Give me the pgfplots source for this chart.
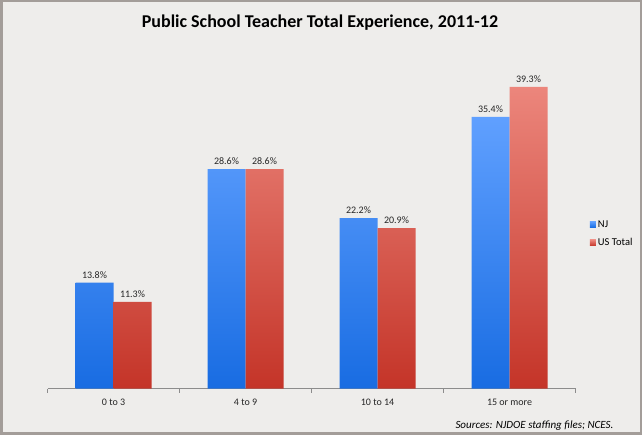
\documentclass[border=0pt]{standalone}
\usepackage{pgfplots}
\pgfplotsset{compat=1.18}
\usepackage{fontspec}
\setmainfont{Carlito}
\definecolor{bg}{HTML}{EEEDEB}
\definecolor{framec}{HTML}{A39D99}
\definecolor{axisgray}{HTML}{8C8C8C}
\definecolor{bluetop}{RGB}{96,160,255}
\definecolor{bluebot}{RGB}{24,108,226}
\definecolor{redtop}{RGB}{236,134,124}
\definecolor{redbot}{RGB}{196,52,40}
\begin{document}
\begin{tikzpicture}[x=1pt,y=1pt]
\useasboundingbox (0,0) rectangle (642,434);
\fill[bg] (0,0) rectangle (642,434);
\draw[framec, line width=5pt] (0,0) rectangle (642,434);
\node[font=\bfseries\fontsize{18}{21}\selectfont] at (320,411) {Public School Teacher Total Experience, 2011-12};
\node[font=\itshape\fontsize{11}{13}\selectfont, anchor=east] at (617,8) {Sources: NJDOE staffing files; NCES.};
\begin{axis}[
  at={(36,59)}, anchor=south west,
  scale only axis, width=528pt, height=322.6pt,
  ybar=0pt, bar width=38pt,
  xmin=-0.5, xmax=3.5, ymin=0, ymax=42,
  axis x line*=bottom, axis y line=none,
  axis line style={axisgray, line width=0.8pt},
  xtick={0,1,2,3},
  xticklabels={0 to 3, 4 to 9, 10 to 14, 15 or more},
  major tick length=0pt,
  x tick label style={font=\fontsize{10}{12}\selectfont, yshift=-7pt, text=black!85},
  extra x ticks={-0.5,0.5,1.5,2.5,3.5},
  extra x tick labels={},
  extra x tick style={tick align=outside, major tick length=4pt, tick style={axisgray, line width=0.8pt}},
  /pgf/number format/assume math mode=true,
  nodes near coords={\pgfmathprintnumber[fixed,precision=1,fixed zerofill]{\pgfplotspointmeta}\%},
  every node near coord/.append style={font=\fontsize{10}{12}\selectfont, text=black!85, yshift=1pt},
  clip=false,
  legend style={at={(1.027,0.48)}, anchor=west, draw=none, fill=none,
    font=\fontsize{10.5}{12}\selectfont, row sep=6pt, inner sep=0pt,
    legend cell align=left},
  legend image code/.code={\fill[#1] (0pt,-3pt) rectangle (6pt,3pt);},
]
\addplot[draw=none, top color=bluetop, bottom color=bluebot] coordinates {(0,13.8) (1,28.6) (2,22.2) (3,35.4)};
\addplot[draw=none, top color=redtop, bottom color=redbot] coordinates {(0,11.3) (1,28.6) (2,20.9) (3,39.3)};
\legend{NJ, US Total}
\end{axis}
\end{tikzpicture}
\end{document}
